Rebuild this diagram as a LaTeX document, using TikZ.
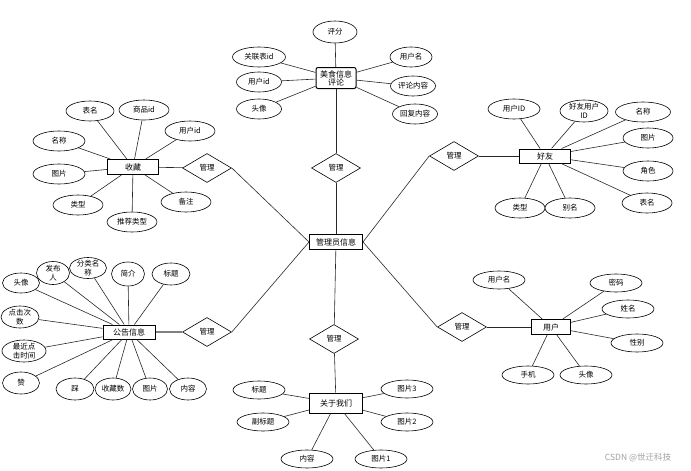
\documentclass[tikz,border=0pt]{standalone}
\usepackage{fontspec}
\setmainfont{Noto Sans CJK SC}
\usepackage{tikz}
\usetikzlibrary{
  shapes.geometric,
  positioning
}
\definecolor{linegray}{RGB}{40, 40, 40}
\definecolor{markgray}{RGB}{160, 160, 160}
\tikzset{
  entity/.style = {
    rectangle, draw=black, line width=1pt,
    fill=white, minimum width=#1, minimum height=15pt,
    inner sep=1pt, align=center, font=\fontsize{8}{9}\selectfont
  },
  entity/.default = 51pt,
  attr/.style = {
    ellipse, draw=black, line width=0.6pt,
    fill=white, minimum width=#1, minimum height=20pt,
    inner sep=-3pt, align=center, font=\fontsize{7.5}{8.5}\selectfont
  },
  attr/.default = 50pt,
  rel/.style = {
    diamond, draw=black, line width=0.6pt,
    fill=white, minimum width=49pt, minimum height=29pt,
    inner sep=0pt, aspect=1.7, font=\fontsize{7.5}{8.5}\selectfont
  },
  conn/.style = {draw=linegray, line width=0.6pt},
}

\begin{document}
\begin{tikzpicture}[x=1pt, y=-1pt]
  \useasboundingbox (0,0) rectangle (691,471);

  %% centre
  \node[entity=53pt] (admin) at (336,242) {管理员信息};
  \node[rel] (rT)  at (336,168) {管理};
  \node[rel] (rUL) at (207,168) {管理};
  \node[rel] (rUR) at (454,156) {管理};
  \node[rel] (rLL) at (207,332) {管理};
  \node[rel] (rB)  at (334,339) {管理};
  \node[rel] (rLR) at (462,327) {管理};

  %% 美食信息评论
  \node[entity=40pt, minimum height=21pt, rounded corners=2pt]
    (pinglun) at (336,78) {美食信息\\[-1pt]评论};
  \node[attr=44pt, minimum height=22pt] (pf)   at (335,32)  {评分};
  \node[attr=53pt] (pglb)  at (259,57)  {关联表id};
  \node[attr=45pt] (pyh)   at (259,82)  {用户id};
  \node[attr=45pt] (ptx)   at (259,109) {头像};
  \node[attr=42pt] (pyhm)  at (411,57)  {用户名};
  \node[attr=45pt] (pnr)   at (413,86)  {评论内容};
  \node[attr=45pt] (phf)   at (415,114) {回复内容};

  %% 收藏
  \node[entity] (shoucang) at (133,167) {收藏};
  \node[attr=48pt] (sbm)  at (90,111)  {表名};
  \node[attr]      (ssp)  at (144,110) {商品id};
  \node[attr]      (syh)  at (190,131) {用户id};
  \node[attr=52pt] (smc)  at (59,141)  {名称};
  \node[attr=52pt] (stp)  at (59,174)  {图片};
  \node[attr]      (slx)  at (78,205)  {类型};
  \node[attr]      (stj)  at (132,222) {推荐类型};
  \node[attr]      (sbz)  at (186,202) {备注};

  %% 好友
  \node[entity, minimum height=14pt] (haoyou) at (545,156) {好友};
  \node[attr=52pt] (hyh)  at (514,109) {用户ID};
  \node[attr=48pt, minimum height=22pt] (hhy) at (584,111) {好友用户\\ID};
  \node[attr=55pt] (hmc)  at (643,112) {名称};
  \node[attr]      (htp)  at (648,138) {图片};
  \node[attr]      (hjs)  at (648,171) {角色};
  \node[attr]      (hbm)  at (647,203) {表名};
  \node[attr]      (hlx)  at (520,208) {类型};
  \node[attr]      (hbm2) at (570,208) {别名};

  %% 公告信息
  \node[entity=52pt, minimum height=14pt] (gonggao) at (129,332) {公告信息};
  \node[attr=37pt]                       (gtx) at (21,283)  {头像};
  \node[attr=33pt, minimum height=23pt] (gfb) at (53,273)  {发布\\人};
  \node[attr=37pt, minimum height=21pt] (gfl) at (88,268)  {分类名\\称};
  \node[attr=33pt, minimum height=24pt] (gjj) at (128,274) {简介};
  \node[attr=38pt, minimum height=22pt] (gbt) at (171,274) {标题};
  \node[attr=38pt, minimum height=22pt] (gdj) at (20,317)  {点击次\\数};
  \node[attr=44pt, minimum height=22pt] (gzj) at (24,351)  {最近点\\击时间};
  \node[attr=37pt, minimum height=22pt] (gz)  at (21,383)  {赞};
  \node[attr=38pt, minimum height=22pt] (gc)  at (75,389)  {踩};
  \node[attr=36pt, minimum height=22pt] (gsc) at (113,389) {收藏数};
  \node[attr=35pt, minimum height=22pt] (gtp) at (150,389) {图片};
  \node[attr=37pt, minimum height=22pt] (gnr) at (188,389) {内容};

  %% 关于我们
  \node[entity=53pt, minimum height=20pt] (guanyu) at (336,403) {关于我们};
  \node[attr=52pt, minimum height=18pt] (abt)  at (259,390) {标题};
  \node[attr=52pt, minimum height=18pt] (afb)  at (263,422) {副标题};
  \node[attr=52pt, minimum height=18pt] (anr)  at (307,459) {内容};
  \node[attr=52pt, minimum height=18pt] (atp1) at (381,459) {图片1};
  \node[attr=52pt, minimum height=18pt] (atp3) at (407,389) {图片3};
  \node[attr=52pt, minimum height=18pt] (atp2) at (407,422) {图片2};

  %% 用户
  \node[entity=39pt] (yonghu) at (551,327) {用户};
  \node[attr=52pt, minimum height=18pt] (uyhm) at (499,280) {用户名};
  \node[attr=52pt, minimum height=18pt] (umm)  at (616,283) {密码};
  \node[attr=52pt, minimum height=18pt] (uxm)  at (628,309) {姓名};
  \node[attr=52pt, minimum height=18pt] (uxb)  at (637,343) {性别};
  \node[attr=52pt, minimum height=18pt] (usj)  at (528,375) {手机};
  \node[attr=52pt, minimum height=18pt] (utx)  at (586,375) {头像};

  \node[font=\fontsize{8.5}{9}\selectfont, text=markgray] (mark) at (638,458)
    {CSDN @世迁科技};

  %% centre links
  \draw[conn] (admin) -- (rT);
  \draw[conn] (admin) -- (rB);
  \draw[conn] (admin.west) -- (rUL.east);
  \draw[conn] (admin.west) -- (rLL.east);
  \draw[conn] (admin.east) -- (rUR.west);
  \draw[conn] (admin.east) -- (rLR.west);
  \draw[conn] (rT) -- (pinglun);
  \draw[conn] (rUL) -- (shoucang);
  \draw[conn] (rUR) -- (haoyou);
  \draw[conn, line width=1.2pt, draw=gray] (rLL) -- (gonggao);
  \draw[conn] (rB) -- (guanyu);
  \draw[conn] (rLR) -- (yonghu);

  %% attributes
  \foreach \a in {pf, pglb, pyh, ptx, pyhm, pnr, phf}
    \draw[conn] (\a) -- (pinglun);
  \foreach \a in {sbm, ssp, syh, smc, stp, slx, stj, sbz}
    \draw[conn] (\a) -- (shoucang);
  \foreach \a in {hyh, hhy, hmc, htp, hjs, hbm, hlx, hbm2}
    \draw[conn] (\a) -- (haoyou);
  \foreach \a in {gtx, gfb, gfl, gjj, gbt, gdj, gzj, gz, gc, gsc, gtp, gnr}
    \draw[conn] (\a) -- (gonggao);
  \foreach \a in {abt, afb, anr, atp1, atp3, atp2}
    \draw[conn] (\a) -- (guanyu);
  \foreach \a in {uyhm, umm, uxm, uxb, usj, utx}
    \draw[conn] (\a) -- (yonghu);

\end{tikzpicture}
\end{document}
